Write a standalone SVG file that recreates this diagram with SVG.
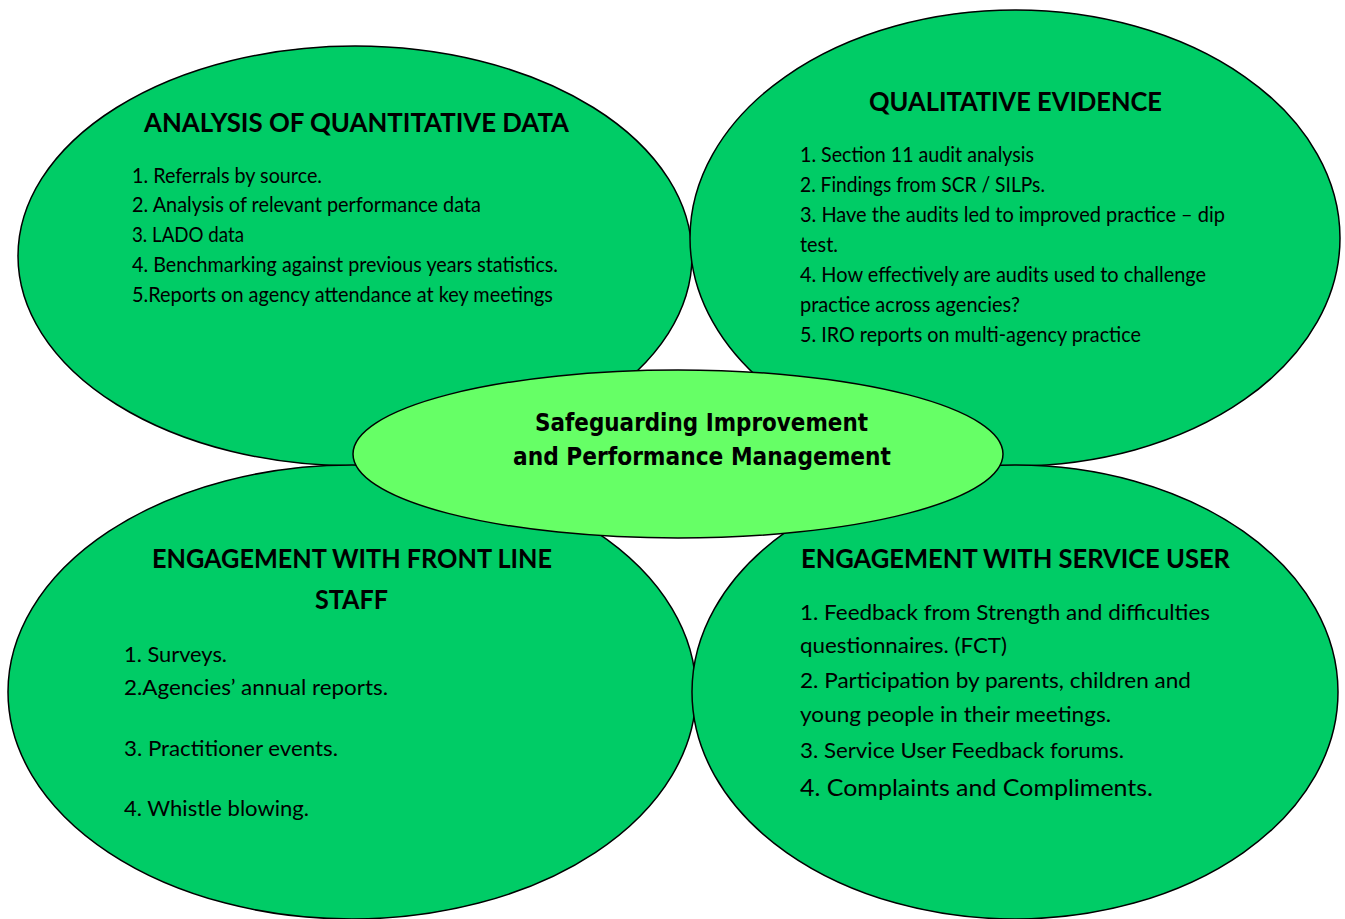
<svg xmlns="http://www.w3.org/2000/svg" width="1345" height="919" viewBox="0 0 1345 919">
<style>
.bubble{fill:#00CC66;stroke:#000;stroke-width:1.5}
.hub{fill:#66FF66;stroke:#000;stroke-width:1.5}
.h{font-family:Lato,"Open Sans","Liberation Sans",sans-serif;font-weight:bold;font-size:26px;fill:#000}
.t{font-family:Lato,"Open Sans","Liberation Sans",sans-serif;font-size:21px;fill:#000}
.t2{font-family:Lato,"Open Sans","Liberation Sans",sans-serif;font-size:24px;fill:#000}
.c{font-family:"DejaVu Sans","Liberation Sans",sans-serif;font-weight:bold;font-size:24px;fill:#000}
</style>
<rect width="1345" height="919" fill="#fff"/>
<g id="quantitative">
<ellipse class="bubble" cx="355" cy="256" rx="337" ry="210"/>
<text class="h" x="144" y="132" textLength="425" lengthAdjust="spacingAndGlyphs">ANALYSIS OF QUANTITATIVE DATA</text>
<text class="t" x="132" y="183" textLength="190" lengthAdjust="spacingAndGlyphs">1. Referrals by source.</text>
<text class="t" x="132" y="212" textLength="349" lengthAdjust="spacingAndGlyphs">2. Analysis of relevant performance data</text>
<text class="t" x="132" y="242" textLength="112" lengthAdjust="spacingAndGlyphs">3. LADO data</text>
<text class="t" x="132" y="272" textLength="426" lengthAdjust="spacingAndGlyphs">4. Benchmarking against previous years statistics.</text>
<text class="t" x="132" y="302" textLength="421" lengthAdjust="spacingAndGlyphs">5.Reports on agency attendance at key meetings</text>
</g>
<g id="qualitative">
<ellipse class="bubble" cx="1015" cy="238" rx="325" ry="228"/>
<text class="h" x="869" y="111" textLength="293" lengthAdjust="spacingAndGlyphs">QUALITATIVE EVIDENCE</text>
<text class="t" x="800" y="162" textLength="234" lengthAdjust="spacingAndGlyphs">1. Section 11 audit analysis</text>
<text class="t" x="800" y="192" textLength="245" lengthAdjust="spacingAndGlyphs">2. Findings from SCR / SILPs.</text>
<text class="t" x="800" y="222" textLength="425" lengthAdjust="spacingAndGlyphs">3. Have the audits led to improved practice – dip</text>
<text class="t" x="800" y="252" textLength="38" lengthAdjust="spacingAndGlyphs">test.</text>
<text class="t" x="800" y="282" textLength="406" lengthAdjust="spacingAndGlyphs">4. How effectively are audits used to challenge</text>
<text class="t" x="800" y="312" textLength="220" lengthAdjust="spacingAndGlyphs">practice across agencies?</text>
<text class="t" x="800" y="342" textLength="341" lengthAdjust="spacingAndGlyphs">5. IRO reports on multi-agency practice</text>
</g>
<g id="frontline">
<ellipse class="bubble" cx="352" cy="692" rx="344" ry="227"/>
<text class="h" x="152" y="568" textLength="400" lengthAdjust="spacingAndGlyphs">ENGAGEMENT WITH FRONT LINE</text>
<text class="h" x="315" y="609" textLength="73" lengthAdjust="spacingAndGlyphs">STAFF</text>
<text class="t" x="124" y="662" textLength="103" lengthAdjust="spacingAndGlyphs">1. Surveys.</text>
<text class="t" x="124" y="695" textLength="264" lengthAdjust="spacingAndGlyphs">2.Agencies’ annual reports.</text>
<text class="t" x="124" y="756" textLength="214" lengthAdjust="spacingAndGlyphs">3. Practitioner events.</text>
<text class="t" x="124" y="816" textLength="185" lengthAdjust="spacingAndGlyphs">4. Whistle blowing.</text>
</g>
<g id="serviceuser">
<ellipse class="bubble" cx="1015" cy="692" rx="323" ry="227"/>
<text class="h" x="801" y="568" textLength="429" lengthAdjust="spacingAndGlyphs">ENGAGEMENT WITH SERVICE USER</text>
<text class="t" x="800" y="620" textLength="410" lengthAdjust="spacingAndGlyphs">1. Feedback from Strength and difficulties</text>
<text class="t" x="800" y="653" textLength="207" lengthAdjust="spacingAndGlyphs">questionnaires. (FCT)</text>
<text class="t" x="800" y="688" textLength="391" lengthAdjust="spacingAndGlyphs">2. Participation by parents, children and</text>
<text class="t" x="800" y="722" textLength="311" lengthAdjust="spacingAndGlyphs">young people in their meetings.</text>
<text class="t" x="800" y="758" textLength="324" lengthAdjust="spacingAndGlyphs">3. Service User Feedback forums.</text>
<text class="t2" x="800" y="796" textLength="353" lengthAdjust="spacingAndGlyphs">4. Complaints and Compliments.</text>
</g>
<g id="hub">
<ellipse class="hub" cx="678" cy="454" rx="325" ry="84"/>
<text class="c" x="535" y="431" textLength="333" lengthAdjust="spacingAndGlyphs">Safeguarding Improvement</text>
<text class="c" x="513" y="465" textLength="378" lengthAdjust="spacingAndGlyphs">and Performance Management</text>
</g>
</svg>
